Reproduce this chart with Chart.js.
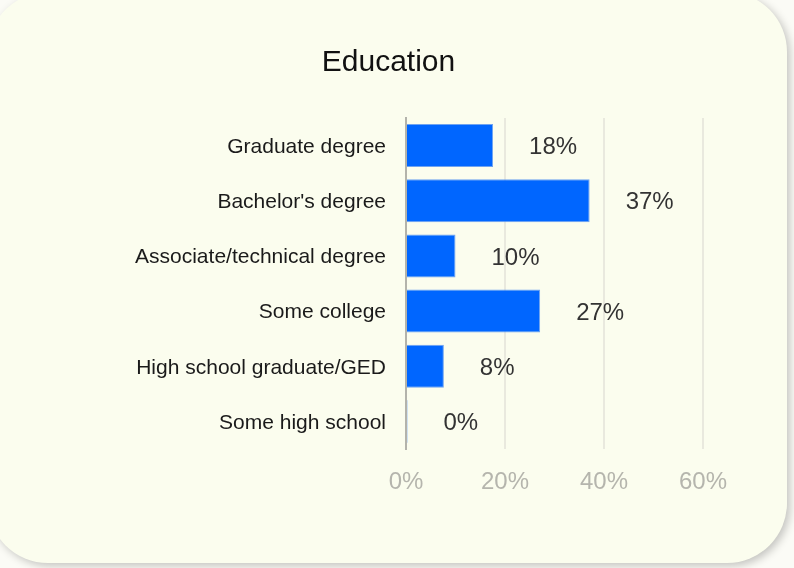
<!DOCTYPE html>
<html>
<head>
<meta charset="utf-8">
<script src="https://cdn.jsdelivr.net/npm/chart.js@4"></script>
<style>
  html, body { margin: 0; padding: 0; background: #fbfbf6; overflow: hidden; }
  #card { position: absolute; left: -12px; top: -8px; width: 799px; height: 571px;
          border-radius: 60px; background: #fbfdee; box-shadow: 3px 3px 9px rgba(0,0,0,0.22); }
  #wrap { position: absolute; left: 0; top: 0; width: 794px; height: 568px; }
</style>
</head>
<body>
<div id="card"></div>
<div id="wrap"><canvas id="c" width="794" height="568"></canvas></div>
<script>
const title = "Education";
const categories = ["Graduate degree", "Bachelor's degree", "Associate/technical degree",
                    "Some college", "High school graduate/GED", "Some high school"];
const percentValues = [17.6, 37.1, 10.0, 27.1, 7.65, 0.3];
const valueLabels = ["18%", "37%", "10%", "27%", "8%", "0%"];
const xTicks = [0, 20, 40, 60];

const FONT = "'Liberation Sans', Arial, sans-serif";

const valueLabelPlugin = {
  id: 'valueLabels',
  afterDatasetsDraw(chart) {
    const ctx = chart.ctx;
    const meta = chart.getDatasetMeta(0);
    ctx.save();
    ctx.font = "24px " + FONT;
    ctx.fillStyle = "#333333";
    ctx.textAlign = "left";
    ctx.textBaseline = "middle";
    meta.data.forEach((bar, i) => {
      ctx.fillText(valueLabels[i], bar.x + 36, bar.y + 2);
    });
    ctx.restore();
  }
};

new Chart(document.getElementById('c'), {
  type: 'bar',
  data: {
    labels: categories,
    datasets: [{
      data: percentValues,
      backgroundColor: '#0066ff',
      borderColor: '#6fa3f0',
      borderWidth: {top: 1, right: 1, bottom: 1, left: 0},
      borderSkipped: 'left',
      barPercentage: 0.78,
      categoryPercentage: 1.0
    }]
  },
  options: {
    indexAxis: 'y',
    responsive: false,
    animation: false,
    layout: { padding: { left: 74, right: 91, top: 0, bottom: 59 } },
    plugins: {
      legend: { display: false },
      tooltip: { enabled: false },
      title: {
        display: true,
        text: title,
        color: '#111111',
        font: { family: FONT, size: 30, weight: 'normal' },
        padding: { top: 45, bottom: 37 }
      }
    },
    scales: {
      x: {
        min: 0, max: 60,
        afterBuildTicks(scale) { scale.ticks = xTicks.map(v => ({ value: v })); },
        afterFit(scale) { scale.height = 60; },
        grid: { color: '#e9e9de', lineWidth: 2, drawTicks: false },
        border: { display: false },
        ticks: {
          color: '#b5b5ad',
          padding: 19,
          font: { family: FONT, size: 24 },
          callback: v => v + '%'
        }
      },
      y: {
        afterFit(scale) { scale.width = 332; },
        grid: { display: false, drawTicks: false },
        border: { display: true, color: '#b3b3ab', width: 2 },
        ticks: {
          color: '#1a1a1a',
          padding: 20,
          labelOffset: 1.5,
          font: { family: FONT, size: 21 }
        }
      }
    }
  },
  plugins: [valueLabelPlugin]
});
</script>
</body>
</html>
